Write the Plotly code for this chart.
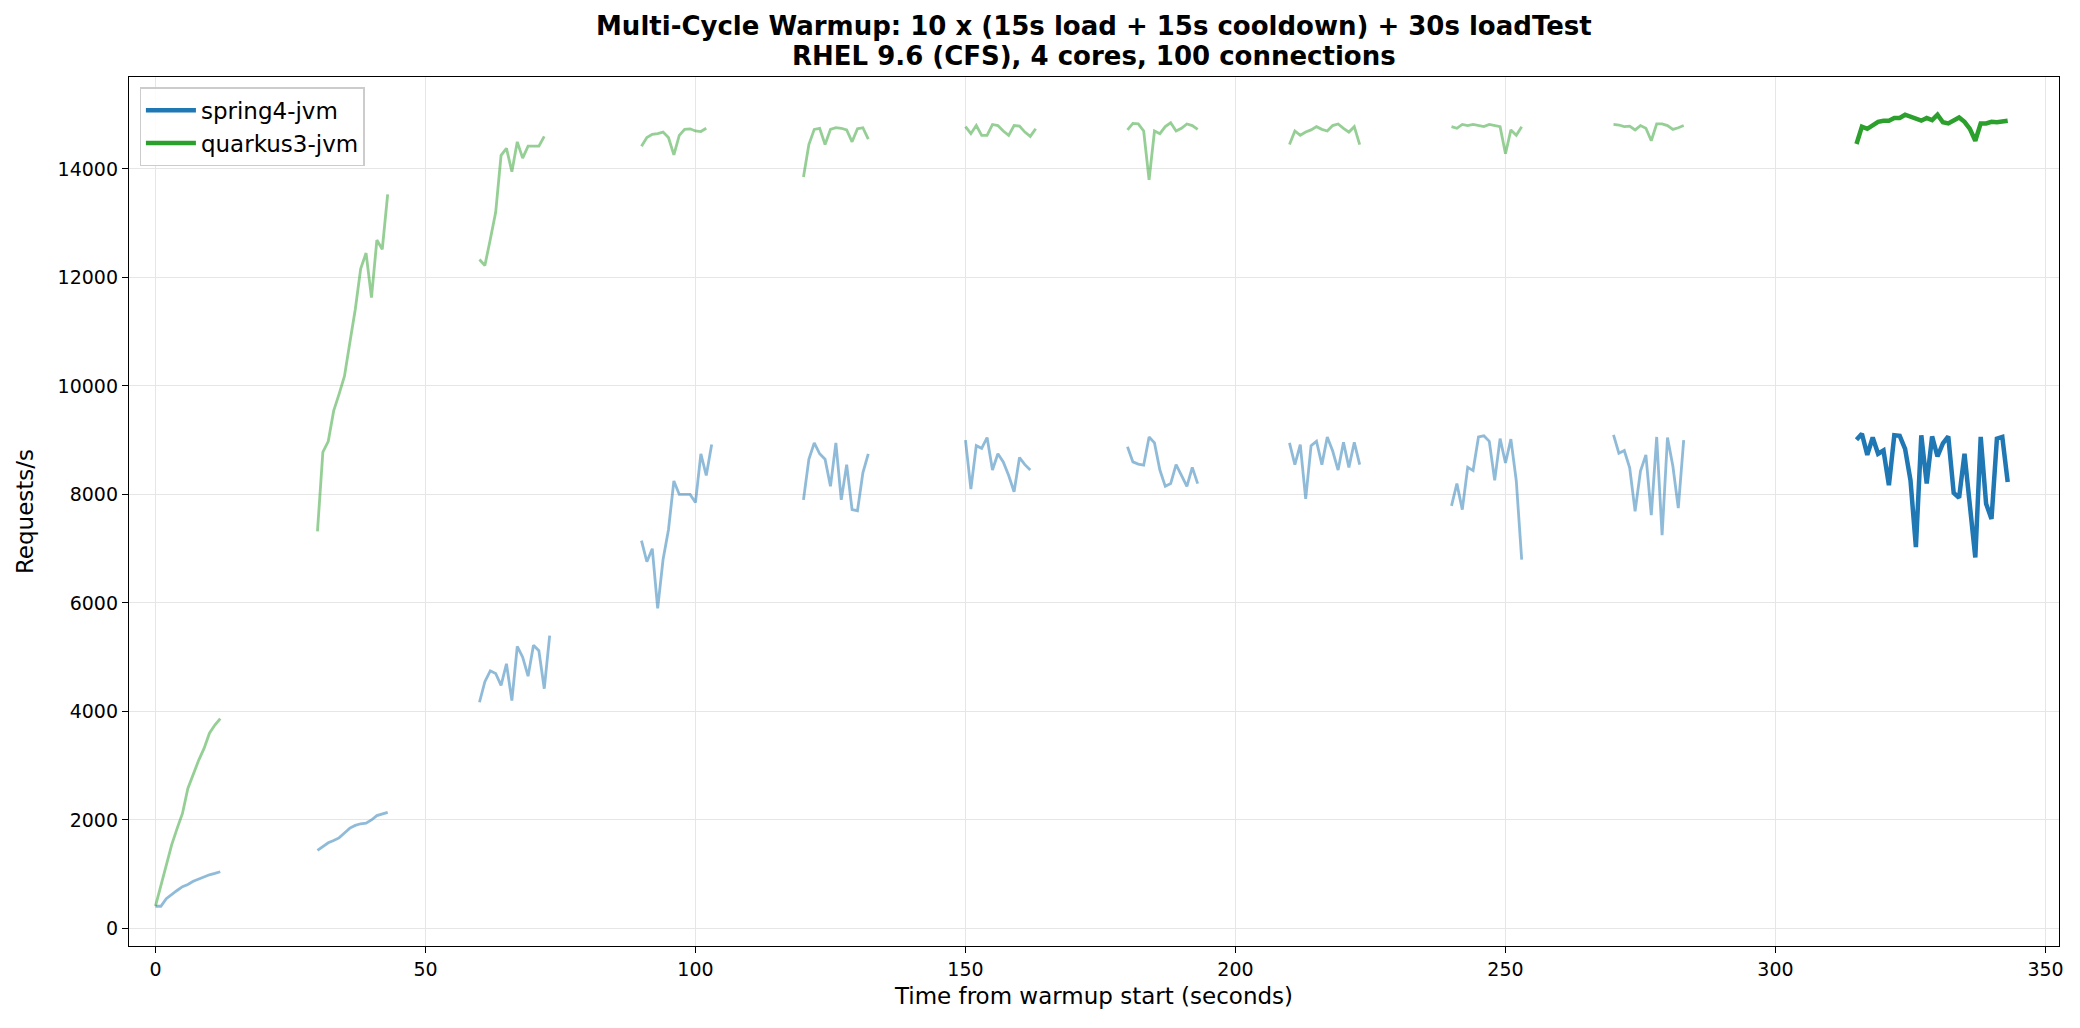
import plotly.graph_objects as go

# ---- data (requests/s sampled every second) ----
cycle_starts = [0, 30, 60, 90, 120, 150, 180, 210, 240, 270]
loadtest_start = 315

spring_c1 = [410, 410, 550, 630, 700, 770, 810, 870, 910, 950, 990, 1015, 1045]
spring_c2 = [1440, 1510, 1580, 1620, 1670, 1760, 1850, 1900, 1930, 1940, 2000, 2080, 2110, 2140]
spring_c3 = [4170, 4550, 4750, 4700, 4480, 4880, 4200, 5200, 5000, 4650, 5220, 5120, 4420, 5400]
spring_c4 = [7150, 6760, 7000, 5900, 6800, 7350, 8250, 8000, 8000, 8000, 7850, 8750, 8350, 8920]
spring_c5 = [7900, 8650, 8950, 8750, 8650, 8150, 8950, 7900, 8550, 7720, 7700, 8400, 8750]
spring_c6 = [9000, 8100, 8900, 8850, 9050, 8450, 8750, 8600, 8350, 8050, 8680, 8550, 8450]
spring_c7 = [8880, 8600, 8560, 8540, 9060, 8950, 8450, 8150, 8200, 8550, 8350, 8150, 8500, 8200]
spring_c8 = [8950, 8550, 8920, 7920, 8900, 8980, 8550, 9060, 8800, 8450, 8960, 8500, 8960, 8550]
spring_c9 = [7790, 8200, 7720, 8500, 8440, 9060, 9080, 8980, 8260, 9030, 8580, 9020, 8250, 6800]
spring_c10 = [9100, 8760, 8810, 8490, 7690, 8430, 8730, 7620, 9060, 7250, 9050, 8520, 7750, 9000]
spring_load = [9010, 9120, 8730, 9050, 8750, 8810, 8170, 9090, 9080, 8840, 8260, 7030, 9090, 8200, 9070,
               8700, 8940, 9070, 8030, 7940, 8750, 7770, 6840, 9060, 7830, 7550, 9030, 9060, 8230]

quarkus_c1 = [410, 770, 1140, 1540, 1840, 2120, 2580, 2860, 3100, 3320, 3600, 3750, 3870]
quarkus_c2 = [7320, 8780, 8980, 9540, 9850, 10180, 10800, 11410, 12160, 12450, 11630, 12690, 12520, 13530]
quarkus_c3 = [12330, 12220, 12700, 13200, 14250, 14380, 13950, 14500, 14200, 14420, 14420, 14420, 14600]
quarkus_c4 = [14420, 14580, 14640, 14650, 14680, 14580, 14260, 14620, 14730, 14740, 14700, 14690, 14750]
quarkus_c5 = [13850, 14450, 14730, 14750, 14450, 14730, 14760, 14750, 14720, 14500, 14740, 14760, 14550]
quarkus_c6 = [14780, 14650, 14800, 14620, 14620, 14820, 14800, 14700, 14620, 14800, 14790, 14680, 14600, 14740]
quarkus_c7 = [14720, 14840, 14830, 14700, 13800, 14700, 14650, 14780, 14850, 14700, 14750, 14830, 14800, 14730]
quarkus_c8 = [14450, 14700, 14620, 14680, 14720, 14780, 14730, 14700, 14800, 14830, 14750, 14680, 14780, 14450]
quarkus_c9 = [14780, 14750, 14820, 14800, 14820, 14800, 14780, 14820, 14800, 14780, 14280, 14720, 14620, 14780]
quarkus_c10 = [14820, 14810, 14780, 14790, 14720, 14800, 14750, 14520, 14830, 14830, 14800, 14730, 14760, 14800]
quarkus_load = [14460, 14780, 14740, 14800, 14870, 14890, 14890, 14940, 14940, 15000, 14970, 14940, 14890, 14940,
                14900, 15000, 14860, 14840, 14890, 14950, 14870, 14740, 14520, 14840, 14840, 14870, 14860,
                14870, 14890]

spring_cycles = [spring_c1, spring_c2, spring_c3, spring_c4, spring_c5,
                 spring_c6, spring_c7, spring_c8, spring_c9, spring_c10]
quarkus_cycles = [quarkus_c1, quarkus_c2, quarkus_c3, quarkus_c4, quarkus_c5,
                  quarkus_c6, quarkus_c7, quarkus_c8, quarkus_c9, quarkus_c10]

x_ticks = [0, 50, 100, 150, 200, 250, 300, 350]
y_ticks = [0, 2000, 4000, 6000, 8000, 10000, 12000, 14000]
y_tick_text = ["0", "2000", "4000", "6000", "8000", "10000", "12000", "14000"]

title_line1 = "Multi-Cycle Warmup: 10 x (15s load + 15s cooldown) + 30s loadTest"
title_line2 = "RHEL 9.6 (CFS), 4 cores, 100 connections"

BLUE = "#1f77b4"
GREEN = "#2ca02c"
BLUE_LIGHT = "rgba(31,119,180,0.5)"
GREEN_LIGHT = "rgba(44,160,44,0.5)"
FONT = "DejaVu Sans"


def join_cycles(starts, cycles):
    xs, ys = [], []
    for s, vals in zip(starts, cycles):
        xs += [s + i for i in range(len(vals))] + [None]
        ys += list(vals) + [None]
    return xs, ys


fig = go.Figure()

for name, cycles, load, col, light in [
    ("spring4-jvm", spring_cycles, spring_load, BLUE, BLUE_LIGHT),
    ("quarkus3-jvm", quarkus_cycles, quarkus_load, GREEN, GREEN_LIGHT),
]:
    wx, wy = join_cycles(cycle_starts, cycles)
    fig.add_trace(go.Scatter(x=wx, y=wy, mode="lines", line=dict(color=light, width=2.8),
                             showlegend=False, hoverinfo="skip", connectgaps=False))
    fig.add_trace(go.Scatter(x=[loadtest_start + i for i in range(len(load))], y=load,
                             mode="lines", name=name, line=dict(color=col, width=4.5)))

axis_common = dict(
    showline=True, mirror=True, linecolor="black", linewidth=1.3,
    ticks="outside", ticklen=6, tickwidth=1.3, tickcolor="black",
    showgrid=True, gridcolor="#e6e6e6", gridwidth=1.2, zeroline=False,
    automargin=False,
    tickfont=dict(family=FONT, size=19, color="black"),
)

fig.update_layout(
    width=2080, height=1028,
    paper_bgcolor="white", plot_bgcolor="white",
    margin=dict(l=121, r=29, t=69, b=90),
    font=dict(family=FONT, color="black"),
    xaxis=dict(axis_common, range=[-4.9, 352.5], tickvals=x_ticks,
               title=dict(text="Time from warmup start (seconds)",
                          font=dict(family=FONT, size=23), standoff=8)),
    yaxis=dict(axis_common, range=[-323, 15695], tickvals=y_ticks, ticktext=y_tick_text,
               title=dict(text="Requests/s", font=dict(family=FONT, size=23), standoff=17)),
    legend=dict(x=0.0055, y=0.988, xanchor="left", yanchor="top",
                bgcolor="rgba(255,255,255,0.85)", bordercolor="#cccccc", borderwidth=1.3,
                itemwidth=50, tracegroupgap=4,
                font=dict(family=FONT, size=23)),
    annotations=[
        dict(text="<b>" + title_line1 + "</b>", x=0.5, y=1.0587, xref="paper", yref="paper",
             xanchor="center", yanchor="middle", showarrow=False,
             font=dict(family=FONT, size=26, color="black")),
        dict(text="<b>" + title_line2 + "</b>", x=0.5, y=1.0242, xref="paper", yref="paper",
             xanchor="center", yanchor="middle", showarrow=False,
             font=dict(family=FONT, size=26, color="black")),
    ],
)

fig.write_html("out.html")
